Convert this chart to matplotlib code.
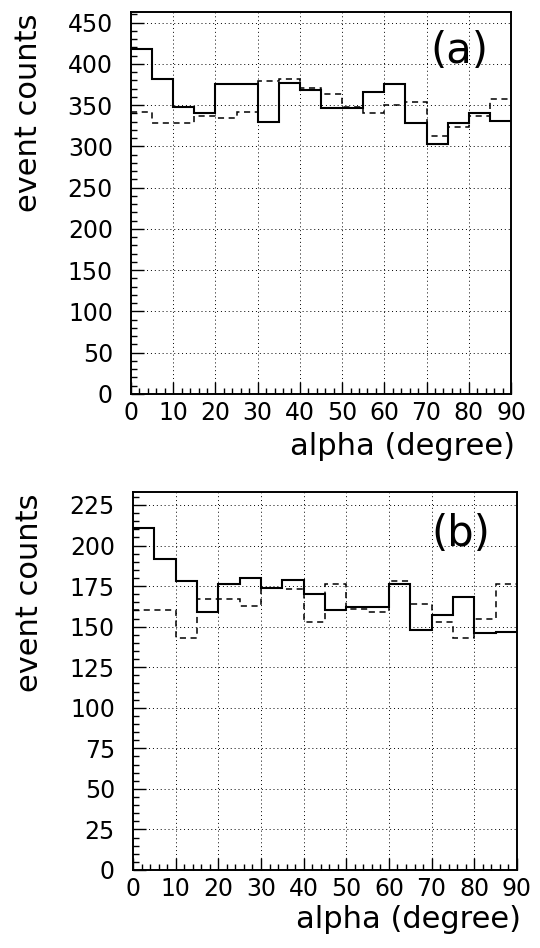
import numpy as np
import matplotlib
matplotlib.use("Agg")
from matplotlib import pyplot as plt
from matplotlib.ticker import MultipleLocator

# bin edges in degree (5 degree bins)
edges = np.arange(0, 95, 5)

# panel (a)
a_solid = [418, 382, 348, 341, 376, 376, 330, 377, 369, 346,
           346, 366, 376, 328, 303, 328, 340, 331]
a_dashed = [342, 328, 329, 337, 334, 342, 379, 382, 371, 363,
            348, 340, 350, 354, 313, 323, 337, 357]

# panel (b)
b_solid = [211, 192, 178, 159, 176, 180, 174, 179, 170, 160,
           162, 162, 176, 148, 157, 168, 146, 147]
b_dashed = [160, 160, 143, 167, 167, 163, 174, 173, 153, 176,
            161, 159, 178, 164, 153, 143, 155, 176]

xticks = [0, 10, 20, 30, 40, 50, 60, 70, 80, 90]

fig = plt.figure(figsize=(5.4, 9.48), dpi=100)

def panel(rect, solid, dashed, ymax, ymajor, yminor, tag, tagpos, xlab_y):
    ax = fig.add_axes(rect)
    ax.stairs(solid, edges, baseline=None, color="black", lw=1.5)
    ax.stairs(dashed, edges, baseline=None, color="black", lw=1.1,
              linestyle=(0, (4, 3)))
    ax.set_xlim(0, 90)
    ax.set_ylim(0, ymax)
    ax.set_xticks(xticks)
    ax.xaxis.set_minor_locator(MultipleLocator(2))
    ax.yaxis.set_major_locator(MultipleLocator(ymajor))
    ax.yaxis.set_minor_locator(MultipleLocator(yminor))
    ax.tick_params(which="both", direction="in", top=False, right=False,
                   labelsize=17, width=1)
    ax.tick_params(axis="y", pad=13)
    ax.tick_params(axis="x", pad=5)
    ax.tick_params(which="major", length=9)
    ax.tick_params(which="minor", length=4)
    ax.grid(True, which="major", color="black", linestyle=(0, (1, 3)), lw=0.7)
    for s in ax.spines.values():
        s.set_linewidth(1.4)
    ax.set_ylabel("event counts", fontsize=22, loc="top")
    ax.yaxis.set_label_coords(-0.232, 0.995)
    ax.set_xlabel("alpha (degree)", fontsize=22, loc="right")
    ax.xaxis.set_label_coords(1.01, xlab_y)
    ax.text(tagpos[0], tagpos[1], tag, transform=ax.transAxes, fontsize=30,
            ha="center", va="center")
    return ax

panel([0.2426, 0.5844, 0.7037, 0.403], a_solid, a_dashed, 463, 50, 10,
      "(a)", (0.863, 0.898), -0.10)
panel([0.2463, 0.0823, 0.711, 0.3987], b_solid, b_dashed, 233, 25, 5,
      "(b)", (0.855, 0.889), -0.092)

plt.savefig("out.png", dpi=100)
